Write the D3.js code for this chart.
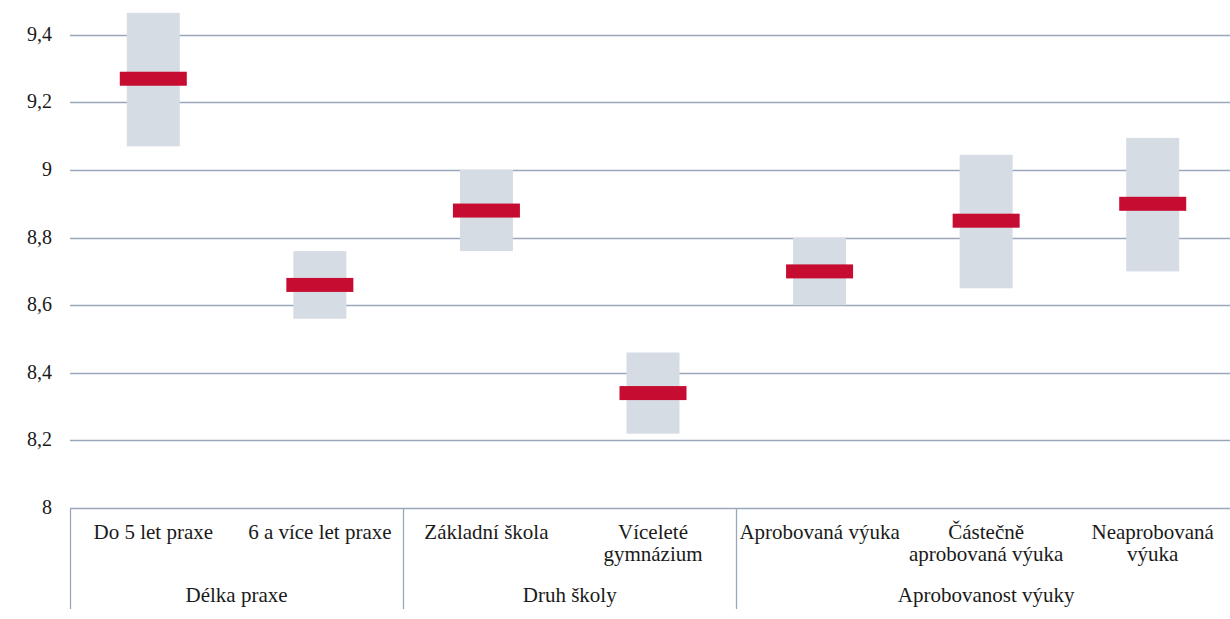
<!DOCTYPE html>
<html>
<head>
<meta charset="utf-8">
<script src="https://cdn.jsdelivr.net/npm/d3@7"></script>
<style>
    body { margin: 0; background: #fff; }
</style>
</head>
<body>
<div id="chart"></div>
<script>
"use strict";

const categories = [
    "Do 5 let praxe",
    "6 a více let praxe",
    "Základní škola",
    "Víceleté\ngymnázium",
    "Aprobovaná výuka",
    "Částečně\naprobovaná výuka",
    "Neaprobovaná\nvýuka",
];
const groups = ["Délka praxe", "Druh školy", "Aprobovanost výuky"];
const groupSizes = [2, 2, 3];
const meanValues = [9.27, 8.66, 8.88, 8.34, 8.70, 8.85, 8.90];
const lowValues = [9.07, 8.56, 8.76, 8.22, 8.60, 8.65, 8.70];
const highValues = [9.465, 8.76, 9.0, 8.46, 8.80, 9.045, 9.095];
const yTicks = [8, 8.2, 8.4, 8.6, 8.8, 9, 9.2, 9.4];

const svgWidth = 1230;
const svgHeight = 619;
const margin = { top: 0, left: 70, right: -6, bottom: 111 };
const fontFamily = "'Liberation Serif', Tinos, 'Times New Roman', 'DejaVu Serif', serif";
const fontSize = "21px";

const svg = d3
    .select("#chart")
    .append("svg")
    .attr("width", svgWidth)
    .attr("height", svgHeight)
    .attr("font-family", fontFamily)
    .attr("fill", "#1a1a1a");

const xScale = d3
    .scaleBand()
    .domain(categories)
    .range([margin.left, svgWidth - margin.right]);

const yScale = d3
    .scaleLinear()
    .domain([8, 9.5])
    .range([508, 508 - 1.5 * 338]);

const fmt = v => d3.format("")(v).replace(".", ",");

// gridlines
svg.append("g")
    .selectAll("line")
    .data(yTicks.slice(1))
    .enter()
    .append("line")
    .attr("x1", margin.left)
    .attr("x2", svgWidth)
    .attr("y1", d => Math.round(yScale(d)) + 0.5)
    .attr("y2", d => Math.round(yScale(d)) + 0.5)
    .attr("stroke", "#9aa6ba")
    .attr("stroke-width", 1.3);

// y labels
svg.append("g")
    .selectAll("text")
    .data(yTicks)
    .enter()
    .append("text")
    .attr("x", 52)
    .attr("y", d => yScale(d) + 6)
    .attr("text-anchor", "end")
    .attr("font-size", "20px")
    .text(fmt);

// range boxes
const boxW = 53;
svg.append("g")
    .selectAll("rect")
    .data(categories)
    .enter()
    .append("rect")
    .attr("x", d => xScale(d) + xScale.bandwidth() / 2 - boxW / 2)
    .attr("width", boxW)
    .attr("y", (_, i) => yScale(highValues[i]))
    .attr("height", (_, i) => yScale(lowValues[i]) - yScale(highValues[i]))
    .attr("fill", "#d6dce4");

// mean markers
const markW = 67;
const markH = 14;
svg.append("g")
    .selectAll("rect")
    .data(categories)
    .enter()
    .append("rect")
    .attr("x", d => xScale(d) + xScale.bandwidth() / 2 - markW / 2)
    .attr("width", markW)
    .attr("y", (_, i) => yScale(meanValues[i]) - markH / 2)
    .attr("height", markH)
    .attr("fill", "#c60c30");

// bottom axis
const axisY = Math.round(yScale(8)) + 0.5;
svg.append("line")
    .attr("x1", margin.left)
    .attr("x2", svgWidth)
    .attr("y1", axisY)
    .attr("y2", axisY)
    .attr("stroke", "#9aa6ba")
    .attr("stroke-width", 1.3);

// group separators
let start = 0;
const bounds = [0];
groupSizes.forEach(n => {
    start += n;
    bounds.push(start);
});
svg.append("g")
    .selectAll("line")
    .data(bounds.slice(0, -1))
    .enter()
    .append("line")
    .attr("x1", i => Math.round(xScale(categories[i])) + 0.5)
    .attr("x2", i => Math.round(xScale(categories[i])) + 0.5)
    .attr("y1", axisY)
    .attr("y2", 609)
    .attr("stroke", "#9aa6ba")
    .attr("stroke-width", 1.3);

// category labels
const catLabels = svg.append("g")
    .selectAll("text")
    .data(categories)
    .enter()
    .append("text")
    .attr("x", d => xScale(d) + xScale.bandwidth() / 2)
    .attr("y", 539)
    .attr("text-anchor", "middle")
    .attr("font-size", fontSize);

catLabels
    .selectAll("tspan")
    .data(d => d.split("\n"))
    .enter()
    .append("tspan")
    .attr("x", function () {
        return d3.select(this.parentNode).attr("x");
    })
    .attr("dy", (_, i) => (i === 0 ? 0 : 22))
    .text(d => d);

// group labels
svg.append("g")
    .selectAll("text")
    .data(groups)
    .enter()
    .append("text")
    .attr("x", (_, i) => {
        const a = xScale(categories[bounds[i]]);
        const b = xScale(categories[bounds[i + 1] - 1]) + xScale.bandwidth();
        return (a + b) / 2;
    })
    .attr("y", 602)
    .attr("text-anchor", "middle")
    .attr("font-size", fontSize)
    .text(d => d);
</script>
</body>
</html>
